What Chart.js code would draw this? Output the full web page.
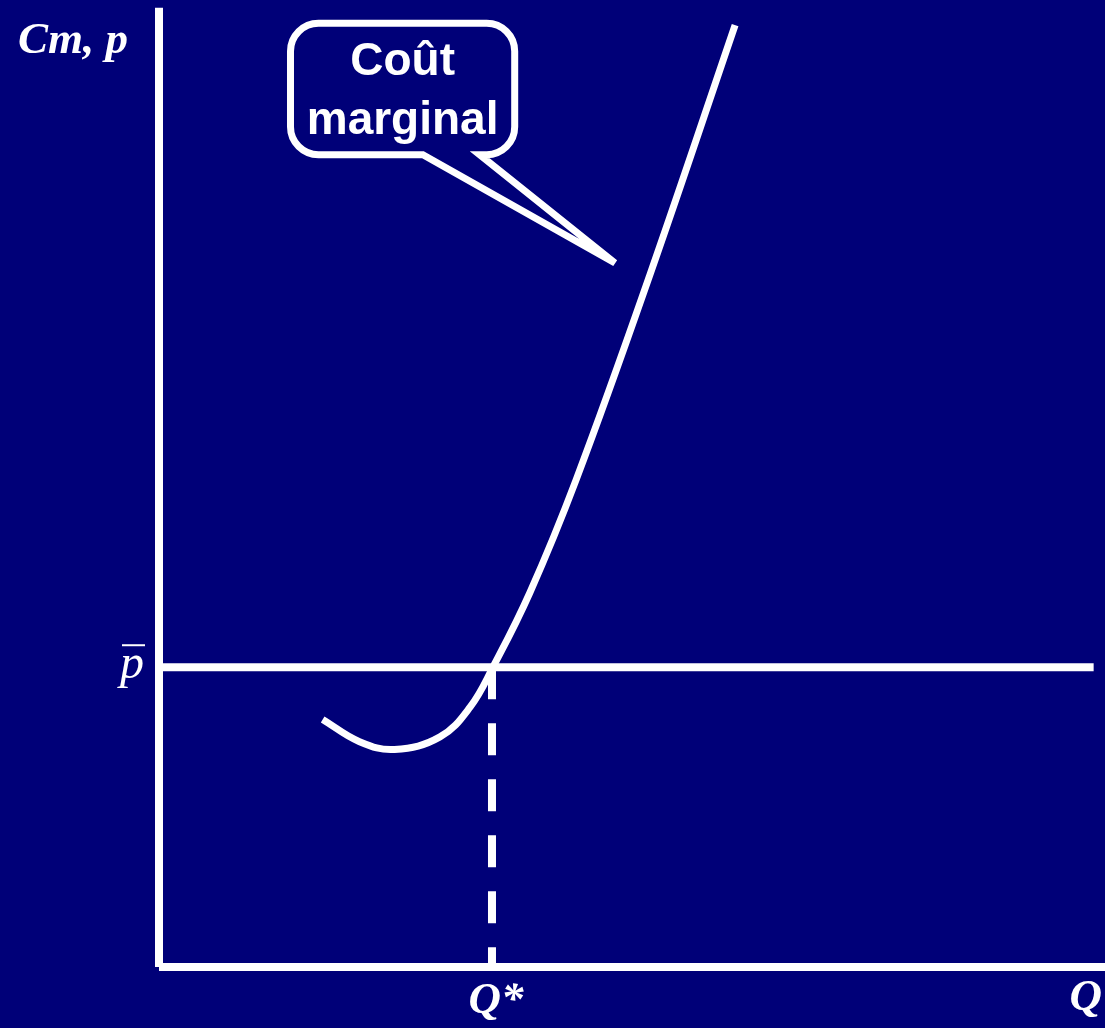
<!DOCTYPE html>
<html>
<head>
<meta charset="utf-8">
<script src="https://cdn.jsdelivr.net/npm/chart.js@4"></script>
<style>
  html, body { margin: 0; padding: 0; background: #000078; }
  canvas { display: block; }
</style>
</head>
<body>
<canvas id="chart" width="1105" height="1028"></canvas>
<script>
// Marginal cost curve (Q, Cm)
const qValues  = [1.73, 2.12, 2.49, 2.97, 3.29, 3.53, 3.92, 4.41, 5.19, 6.09];
const cmValues = [2.56, 2.33, 2.25, 2.38, 2.69, 3.10, 3.87, 5.04, 7.16, 9.74];

// Market price and optimal quantity
const priceBar = 3.10;
const qStar = 3.52;
const priceLineEnd = 9.88;

// Axis extents
const xAxisEnd = 10;
const yAxisTop = 9.92;

const BG = '#000078';
const FG = '#ffffff';

// Callout "Coût marginal" (in data units)
const calloutBox = { left: 1.39, right: 3.76, top: 9.76, bottom: 8.40 };
const calloutBase = [2.79, 3.39];
const calloutTip = { x: 4.82, y: 7.28 };
const calloutLines = ['Coût', 'marginal'];

const curve = qValues.map((q, i) => ({ x: q, y: cmValues[i] }));

const annotationPlugin = {
    id: 'annotations',
    afterDatasetsDraw(chart) {
        const { ctx, scales: { x, y } } = chart;
        ctx.save();

        // callout bubble
        const L = x.getPixelForValue(calloutBox.left);
        const R = x.getPixelForValue(calloutBox.right);
        const T = y.getPixelForValue(calloutBox.top);
        const B = y.getPixelForValue(calloutBox.bottom);
        const b1 = x.getPixelForValue(calloutBase[0]);
        const b2 = x.getPixelForValue(calloutBase[1]);
        const tx = x.getPixelForValue(calloutTip.x);
        const ty = y.getPixelForValue(calloutTip.y);
        const r = 28;
        ctx.beginPath();
        ctx.moveTo(b1, B);
        ctx.lineTo(tx, ty);
        ctx.lineTo(b2, B);
        ctx.lineTo(R - r, B);
        ctx.arcTo(R, B, R, B - r, r);
        ctx.lineTo(R, T + r);
        ctx.arcTo(R, T, R - r, T, r);
        ctx.lineTo(L + r, T);
        ctx.arcTo(L, T, L, T + r, r);
        ctx.lineTo(L, B - r);
        ctx.arcTo(L, B, L + r, B, r);
        ctx.closePath();
        ctx.lineWidth = 7;
        ctx.strokeStyle = FG;
        ctx.stroke();

        ctx.fillStyle = FG;
        ctx.font = 'bold 46px "Liberation Sans", Arial, sans-serif';
        ctx.textAlign = 'center';
        ctx.textBaseline = 'alphabetic';
        const cx = (L + R) / 2;
        ctx.fillText(calloutLines[0], cx, T + 52);
        ctx.fillText(calloutLines[1], cx, T + 111);

        // axis labels
        const x0 = x.getPixelForValue(0);
        const y0 = y.getPixelForValue(0);
        ctx.font = 'italic bold 45px "Liberation Serif", "Times New Roman", serif';
        ctx.textAlign = 'right';
        ctx.fillText('Cm, p', x0 - 31, 53);

        ctx.textAlign = 'center';
        ctx.fillText('Q*', x.getPixelForValue(qStar) + 4, y0 + 46);

        ctx.textAlign = 'right';
        ctx.fillText('Q', x.getPixelForValue(xAxisEnd) - 3, y0 + 43);

        // p-bar
        const py = y.getPixelForValue(priceBar);
        ctx.font = 'italic 48px "Liberation Serif", "Times New Roman", serif';
        ctx.fillText('p', x0 - 15, py + 11);
        ctx.fillRect(x0 - 37, py - 23, 23, 2);

        ctx.restore();
    }
};

const lineStyle = {
    showLine: true,
    pointRadius: 0,
    borderColor: FG,
    borderWidth: 8,
    clip: false
};

new Chart(document.getElementById('chart'), {
    type: 'scatter',
    data: {
        datasets: [
            { ...lineStyle, label: 'axe Q', data: [{ x: 0, y: 0 }, { x: xAxisEnd, y: 0 }] },
            { ...lineStyle, label: 'axe Cm', data: [{ x: 0, y: 0 }, { x: 0, y: yAxisTop }] },
            { ...lineStyle, label: 'prix', data: [{ x: 0, y: priceBar }, { x: priceLineEnd, y: priceBar }] },
            { ...lineStyle, label: 'Q*', borderDash: [32, 24], data: [{ x: qStar, y: priceBar }, { x: qStar, y: 0 }] },
            { ...lineStyle, label: 'Coût marginal', borderWidth: 7, tension: 0.4, data: curve }
        ]
    },
    options: {
        responsive: false,
        animation: false,
        layout: { padding: { left: 159, right: 0, top: 0, bottom: 61 } },
        scales: {
            x: { type: 'linear', min: 0, max: xAxisEnd, display: false },
            y: { type: 'linear', min: 0, max: 10, display: false }
        },
        plugins: {
            legend: { display: false },
            tooltip: { enabled: false }
        }
    },
    plugins: [annotationPlugin]
});
</script>
</body>
</html>
